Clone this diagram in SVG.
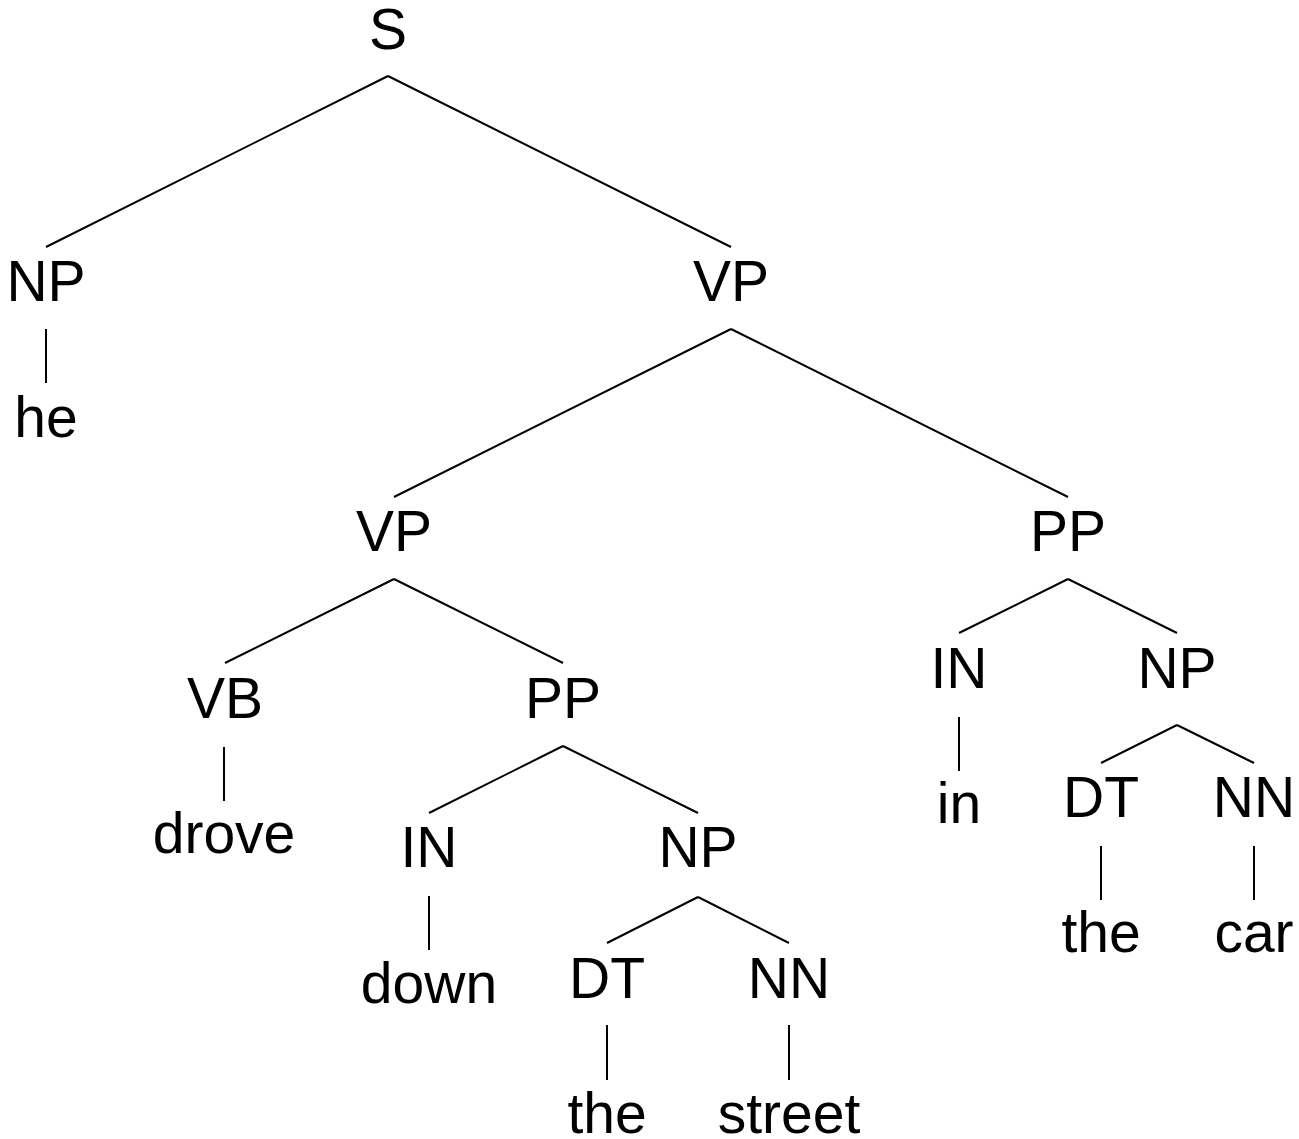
<svg xmlns="http://www.w3.org/2000/svg" width="1299" height="1139" viewBox="0 0 1299 1139">
<style>
text{font-family:"Liberation Sans",Arial,sans-serif;font-size:57px;fill:#000;text-anchor:middle}
.e line{stroke:#000;stroke-width:2;stroke-linecap:butt}
</style>
<rect width="1299" height="1139" fill="#fff"/>
<g id="connectors" class="e">
<line x1="388" y1="76" x2="46" y2="247"/>
<line x1="388" y1="76" x2="731" y2="247"/>
<line x1="46" y1="329" x2="46" y2="383"/>
<line x1="731" y1="329" x2="394" y2="497"/>
<line x1="731" y1="329" x2="1068" y2="497"/>
<line x1="394" y1="579" x2="225" y2="663"/>
<line x1="394" y1="579" x2="563" y2="663"/>
<line x1="224" y1="747" x2="224" y2="801"/>
<line x1="563" y1="746" x2="429" y2="813"/>
<line x1="563" y1="746" x2="698" y2="813"/>
<line x1="429" y1="896" x2="429" y2="950"/>
<line x1="698" y1="897" x2="607" y2="943"/>
<line x1="698" y1="897" x2="789" y2="943"/>
<line x1="607" y1="1025" x2="607" y2="1080"/>
<line x1="789" y1="1025" x2="789" y2="1080"/>
<line x1="1068" y1="579" x2="959" y2="633"/>
<line x1="1068" y1="579" x2="1177" y2="633"/>
<line x1="959" y1="717" x2="959" y2="771"/>
<line x1="1177" y1="725" x2="1101" y2="763"/>
<line x1="1177" y1="725" x2="1254" y2="763"/>
<line x1="1101" y1="846" x2="1101" y2="900"/>
<line x1="1254" y1="846" x2="1254" y2="900"/>
</g>
<g id="n-S"><text x="388" y="49">S</text></g>
<g id="n-NP1"><text x="46" y="301">NP</text></g>
<g id="n-he"><text x="46" y="437">he</text></g>
<g id="n-VP1"><text x="731" y="301">VP</text></g>
<g id="n-VP2"><text x="394" y="551">VP</text></g>
<g id="n-PP1"><text x="1068" y="551">PP</text></g>
<g id="n-VB"><text x="225" y="718">VB</text></g>
<g id="n-drove"><text x="224" y="853">drove</text></g>
<g id="n-PP2"><text x="563" y="718">PP</text></g>
<g id="n-IN1"><text x="429" y="867">IN</text></g>
<g id="n-down"><text x="429" y="1003">down</text></g>
<g id="n-NP2"><text x="698" y="867">NP</text></g>
<g id="n-DT1"><text x="607" y="998">DT</text></g>
<g id="n-the1"><text x="607" y="1133">the</text></g>
<g id="n-NN1"><text x="789" y="998">NN</text></g>
<g id="n-street"><text x="789" y="1133">street</text></g>
<g id="n-IN2"><text x="959" y="688">IN</text></g>
<g id="n-in"><text x="959" y="823">in</text></g>
<g id="n-NP3"><text x="1177" y="688">NP</text></g>
<g id="n-DT2"><text x="1101" y="817">DT</text></g>
<g id="n-the2"><text x="1101" y="952">the</text></g>
<g id="n-NN2"><text x="1254" y="817">NN</text></g>
<g id="n-car"><text x="1254" y="952">car</text></g>
</svg>
